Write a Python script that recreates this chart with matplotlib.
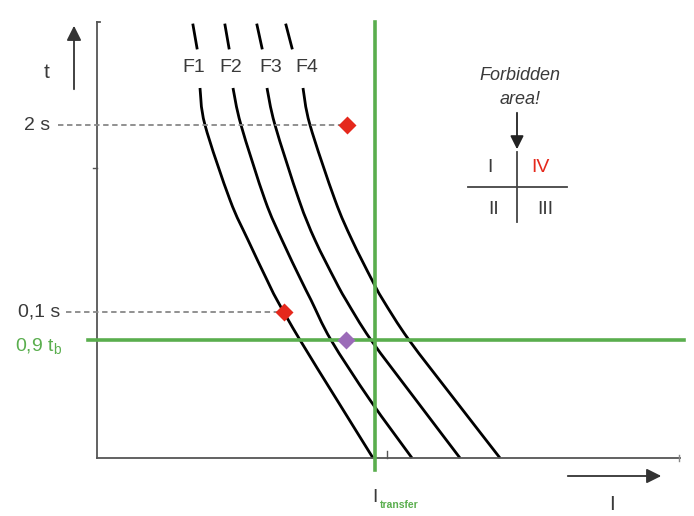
import matplotlib.pyplot as plt
import numpy as np
from matplotlib.path import Path
from matplotlib.patches import PathPatch

plt.rcParams['font.family'] = ['Liberation Sans', 'DejaVu Sans']

# schematic tripping curves, I (current) vs t (time), arbitrary units, origin at axis crossing
t_pts = [370, 333, 258, 218, 178, 158, 118, 58, 0]
f1_I = [103, 108, 133, 151, 170, 180, 203, 240, 276]
f2_I = [136, 144, 168, 185, 204, 214, 234, 273, 315]
f3_I = [170, 178, 202, 218, 238, 249, 274, 319, 363]
f4_I = [206, 213, 238, 255, 275, 286, 312, 358, 403]
curve_names = ['F1', 'F2', 'F3', 'F4']
# short stubs above the labels
stub_I_top = [96, 128, 160, 189]
stub_I_bot = [100, 132, 165, 195]
stub_t = [433, 410]
label_I = [97, 134, 174, 210]

I_transfer = 278
t_09tb = 118
t_2s = 333
t_01s = 146
red_pts_I = [250, 187]
red_pts_t = [t_2s, t_01s]
purple_I = 249
purple_t = t_09tb

dark = '#3a3a3a'
green = '#5aae4e'
red = '#e5281c'
purple = '#9b6bb8'


def smooth_path(xs, ys):
    # catmull-rom through the read points, drawn as bezier segments
    p = np.column_stack([xs, ys]).astype(float)
    verts = [p[0]]
    codes = [Path.MOVETO]
    for i in range(len(p) - 1):
        p0 = p[i - 1] if i > 0 else p[i]
        p3 = p[i + 2] if i + 2 < len(p) else p[i + 1]
        c1 = p[i] + (p[i + 1] - p0) / 6.0
        c2 = p[i + 1] - (p3 - p[i]) / 6.0
        verts += [c1, c2, p[i + 1]]
        codes += [Path.CURVE4] * 3
    return Path(verts, codes)


fig = plt.figure(figsize=(6.94, 5.16), dpi=100)
ax = fig.add_axes([0, 0, 1, 1])
ax.set_xlim(-97, 597)
ax.set_ylim(-58, 458)
ax.axis('off')

# axes lines
ax.plot([0, 0], [0, 436], color='#555555', lw=1.3)
ax.plot([0, 583], [0, 0], color='#555555', lw=1.3)
ax.plot([0, 3], [436, 436], color='#555555', lw=1.3)
ax.plot([-4, 0], [290, 290], color='#555555', lw=1.0)
ax.plot([582, 582], [-3, 3], color='#888888', lw=1.0)
ax.plot([290, 290], [0, 7], color='#555555', lw=1.0)

# dashed guide lines
ax.plot([-39, 243], [t_2s, t_2s], ls=(0, (3, 2)), color='#888888', lw=1.3)
ax.plot([-31, 181], [t_01s, t_01s], ls=(0, (3, 2)), color='#888888', lw=1.3)

# green limits
ax.plot([I_transfer, I_transfer], [-12, 436], color=green, lw=2.6)
ax.plot([-9, 587], [t_09tb, t_09tb], color=green, lw=2.6)

# curves
for xs in [f1_I, f2_I, f3_I, f4_I]:
    ax.add_patch(PathPatch(smooth_path(xs, t_pts), fill=False, edgecolor='black', lw=2.0))
for a, b in zip(stub_I_top, stub_I_bot):
    ax.plot([a, b], stub_t, color='black', lw=2.0)
for name, x in zip(curve_names, label_I):
    ax.text(x, 390, name, ha='center', va='center', fontsize=14, color=dark)

# markers
ax.plot(red_pts_I, red_pts_t, 'D', color=red, ms=9, mec='none')
ax.plot([purple_I], [purple_t], 'D', color=purple, ms=9, mec='none')

# axis arrows and labels
ax.annotate('', xy=(-23, 435), xytext=(-23, 366),
            arrowprops=dict(arrowstyle='-|>', color='#333333', lw=1.3, mutation_scale=22))
ax.text(-50, 386, 't', ha='center', va='center', fontsize=15, color=dark)
ax.annotate('', xy=(567, -18), xytext=(468, -18),
            arrowprops=dict(arrowstyle='-|>', color='#333333', lw=1.3, mutation_scale=22))
ax.text(515, -46, 'I', ha='center', va='center', fontsize=15, color=dark)
ax.text(275, -39, 'I', ha='left', va='center', fontsize=14, color=dark)
ax.text(283, -47, 'transfer', ha='left', va='center', fontsize=7.5, color=green, fontweight='bold')

ax.text(-47, t_2s, '2 s', ha='right', va='center', fontsize=14, color=dark)
ax.text(-37, t_01s, '0,1 s', ha='right', va='center', fontsize=14, color=dark)
ax.text(-35, 111, r'0,9 t$_\mathregular{b}$', ha='right', va='center', fontsize=14, color=green)

# forbidden area inset
ax.text(423, 383, 'Forbidden', ha='center', va='center', fontsize=13, style='italic', color=dark)
ax.text(423, 358, 'area!', ha='center', va='center', fontsize=13, style='italic', color=dark)
ax.annotate('', xy=(420, 306), xytext=(420, 348),
            arrowprops=dict(arrowstyle='-|>', color='#222222', lw=1.3, mutation_scale=20))
ax.plot([371, 470], [271, 271], color='#444444', lw=1.3)
ax.plot([420, 420], [236, 306], color='#444444', lw=1.3)
ax.text(393, 290, 'I', ha='center', va='center', fontsize=14, color=dark)
ax.text(443, 290, 'IV', ha='center', va='center', fontsize=14, color=red)
ax.text(397, 248, 'II', ha='center', va='center', fontsize=14, color=dark)
ax.text(448, 248, 'III', ha='center', va='center', fontsize=14, color=dark)

fig.savefig('out.png', dpi=100)
